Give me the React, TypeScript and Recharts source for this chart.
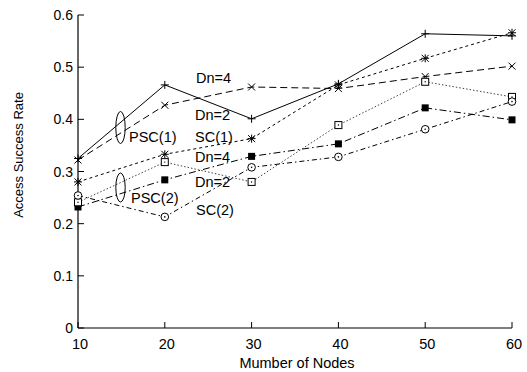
import { LineChart, Line, XAxis, YAxis } from 'recharts';

const nodes = [10, 20, 30, 40, 50, 60];
const psc1Dn4 = [0.325, 0.466, 0.401, 0.468, 0.564, 0.56];
const psc1Dn2 = [0.322, 0.427, 0.462, 0.459, 0.482, 0.502];
const sc1 = [0.28, 0.333, 0.363, 0.466, 0.517, 0.566];
const psc2Dn4 = [0.232, 0.284, 0.329, 0.353, 0.422, 0.399];
const psc2Dn2 = [0.241, 0.318, 0.28, 0.389, 0.472, 0.443];
const sc2 = [0.254, 0.213, 0.308, 0.328, 0.381, 0.434];

const xTicks = [10, 20, 30, 40, 50, 60];
const yTicks = [0, 0.1, 0.2, 0.3, 0.4, 0.5, 0.6];

const data = nodes.map((n, i) => ({
  n,
  psc1Dn4: psc1Dn4[i],
  psc1Dn2: psc1Dn2[i],
  sc1: sc1[i],
  psc2Dn4: psc2Dn4[i],
  psc2Dn2: psc2Dn2[i],
  sc2: sc2[i],
}));

const FONT = '"Liberation Sans", Arial, sans-serif';
const INK = '#000';

const marker = (kind: string) => (p: any) => {
  const { cx, cy, index } = p;
  const k = `${kind}-${index}`;
  if (cx == null || cy == null) return <g key={k} />;
  const s = 3.5;
  switch (kind) {
    case 'plus':
      return (
        <g key={k} stroke={INK} strokeWidth={1}>
          <line x1={cx - 4} y1={cy} x2={cx + 4} y2={cy} />
          <line x1={cx} y1={cy - 4} x2={cx} y2={cy + 4} />
        </g>
      );
    case 'cross':
      return (
        <g key={k} stroke={INK} strokeWidth={1}>
          <line x1={cx - s} y1={cy - s} x2={cx + s} y2={cy + s} />
          <line x1={cx - s} y1={cy + s} x2={cx + s} y2={cy - s} />
        </g>
      );
    case 'star':
      return (
        <g key={k} stroke={INK} strokeWidth={1}>
          <line x1={cx - s} y1={cy - s} x2={cx + s} y2={cy + s} />
          <line x1={cx - s} y1={cy + s} x2={cx + s} y2={cy - s} />
          <line x1={cx - 4} y1={cy} x2={cx + 4} y2={cy} />
          <line x1={cx} y1={cy - 4} x2={cx} y2={cy + 4} />
        </g>
      );
    case 'fsq':
      return <rect key={k} x={cx - 3.5} y={cy - 3.5} width={7} height={7} fill={INK} />;
    case 'osq':
      return (
        <g key={k}>
          <rect x={cx - 3.5} y={cy - 3.5} width={7} height={7} fill="#fff" stroke={INK} strokeWidth={1} />
          <circle cx={cx} cy={cy} r={0.7} fill={INK} />
        </g>
      );
    default:
      return (
        <g key={k}>
          <circle cx={cx} cy={cy} r={3.8} fill="#fff" stroke={INK} strokeWidth={1} />
          <circle cx={cx} cy={cy} r={0.8} fill={INK} />
        </g>
      );
  }
};

const BottomTick = (p: any) => {
  const { x, y, payload } = p;
  return (
    <g>
      <line x1={x} y1={y} x2={x} y2={y - 6} stroke={INK} />
      <text x={x + 2} y={y + 21} textAnchor="middle" fontSize={14.5} fontFamily={FONT} fill={INK}>
        {payload.value}
      </text>
    </g>
  );
};

const TopTick = (p: any) => {
  const { x, y } = p;
  return <line x1={x} y1={y} x2={x} y2={y + 6} stroke={INK} />;
};

const LeftTick = (p: any) => {
  const { x, y, payload } = p;
  const v = payload.value;
  return (
    <g>
      <line x1={x} y1={y} x2={x + 6} y2={y} stroke={INK} />
      <text x={x - 5} y={y + 5} textAnchor="end" fontSize={14} fontFamily={FONT} fill={INK}>
        {v === 0 ? '0' : v.toFixed(1)}
      </text>
    </g>
  );
};

const RightTick = (p: any) => {
  const { x, y } = p;
  return <line x1={x} y1={y} x2={x - 6} y2={y} stroke={INK} />;
};

const Annot = ({ x, y, t }: { x: number; y: number; t: string }) => (
  <text x={x} y={y} fontSize={14.5} fontFamily={FONT} fill={INK}>
    {t}
  </text>
);

export default function App() {
  return (
    <div style={{ position: 'fixed', left: 0, top: 0, width: 527, height: 372, background: '#fff' }}>
      <LineChart width={527} height={372} data={data} margin={{ top: 15, right: 15, bottom: 0, left: 0 }}>
        <XAxis
          dataKey="n"
          type="number"
          domain={[10, 60]}
          ticks={xTicks}
          height={44}
          tickSize={0}
          tickMargin={0}
          tick={BottomTick}
          tickLine={false}
          axisLine={{ stroke: INK, strokeWidth: 1.2 }}
          interval={0}
        />
        <XAxis
          xAxisId="top"
          dataKey="n"
          type="number"
          orientation="top"
          domain={[10, 60]}
          ticks={xTicks}
          height={0}
          tickSize={0}
          tickMargin={0}
          tick={TopTick}
          tickLine={false}
          axisLine={{ stroke: INK, strokeWidth: 1.2 }}
          interval={0}
        />
        <YAxis
          type="number"
          domain={[0, 0.6]}
          ticks={yTicks}
          width={78}
          tickSize={0}
          tickMargin={0}
          tick={LeftTick}
          tickLine={false}
          axisLine={{ stroke: INK, strokeWidth: 1.2 }}
          interval={0}
        />
        <YAxis
          yAxisId="right"
          orientation="right"
          type="number"
          domain={[0, 0.6]}
          ticks={yTicks}
          width={0}
          tickSize={0}
          tickMargin={0}
          tick={RightTick}
          tickLine={false}
          axisLine={{ stroke: INK, strokeWidth: 1.2 }}
          interval={0}
        />
        <Line dataKey="psc1Dn4" stroke={INK} strokeWidth={1} dot={marker('plus')} isAnimationActive={false} />
        <Line dataKey="psc1Dn2" stroke={INK} strokeWidth={1} strokeDasharray="7 4" dot={marker('cross')} isAnimationActive={false} />
        <Line dataKey="sc1" stroke={INK} strokeWidth={1} strokeDasharray="3 3" dot={marker('star')} isAnimationActive={false} />
        <Line dataKey="psc2Dn4" stroke={INK} strokeWidth={1} strokeDasharray="7 3 1.5 3" dot={marker('fsq')} isAnimationActive={false} />
        <Line dataKey="psc2Dn2" stroke="#444" strokeWidth={1} strokeDasharray="1.5 2" dot={marker('osq')} isAnimationActive={false} />
        <Line dataKey="sc2" stroke={INK} strokeWidth={1} strokeDasharray="5 3 1.5 3" dot={marker('circ')} isAnimationActive={false} />
      </LineChart>
      <svg width={527} height={372} style={{ position: 'absolute', left: 0, top: 0, pointerEvents: 'none' }}>
        <Annot x={196} y={83} t="Dn=4" />
        <Annot x={195} y={120} t="Dn=2" />
        <Annot x={129} y={142} t="PSC(1)" />
        <Annot x={195} y={142} t="SC(1)" />
        <Annot x={195} y={162} t="Dn=4" />
        <Annot x={195} y={187} t="Dn=2" />
        <Annot x={131} y={203} t="PSC(2)" />
        <Annot x={196} y={215} t="SC(2)" />
        <ellipse cx={120.5} cy={127.5} rx={4.7} ry={16} fill="none" stroke={INK} strokeWidth={1} />
        <ellipse cx={120.5} cy={187.5} rx={4.7} ry={14.5} fill="none" stroke={INK} strokeWidth={1} />
        <text x={297} y={368} textAnchor="middle" fontSize={14.5} fontFamily={FONT} fill={INK}>
          Mumber of Nodes
        </text>
        <text
          x={0}
          y={0}
          transform="translate(23,155) rotate(-90)"
          textAnchor="middle"
          fontSize={13}
          fontFamily={FONT}
          fill={INK}
        >
          Access Success Rate
        </text>
      </svg>
    </div>
  );
}
